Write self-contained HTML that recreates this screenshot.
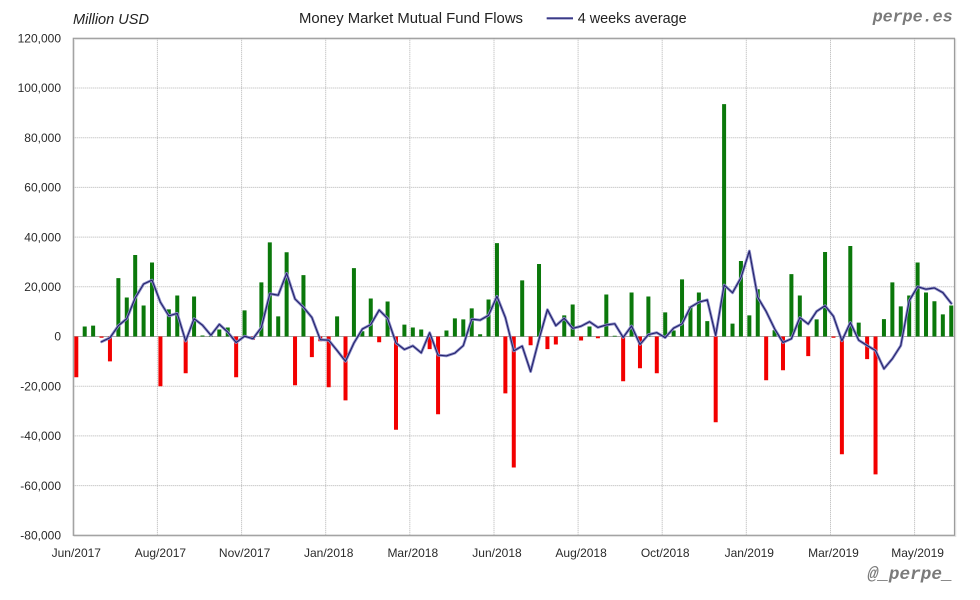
<!DOCTYPE html>
<html><head><meta charset="utf-8"><style>
html,body{margin:0;padding:0;background:#fff;}
svg{display:block;font-family:"Liberation Sans","DejaVu Sans",sans-serif;}
</style></head><body>
<svg width="980" height="600" viewBox="0 0 980 600" xmlns="http://www.w3.org/2000/svg">
<defs>
<polyline id="avg" vector-effect="non-scaling-stroke" points="3,-2.125 4,-0.525 5,4.35 6,7.175 7,15.5 8,21.125 9,22.7 10,13.775 11,8.3 12,9.3 13,-1.85 14,7.175 15,4.55 16,0.5 17,4.9 18,1.775 19,-2.425 20,0.125 21,-0.9 22,3.65 23,17.225 24,16.625 25,25.425 26,15.075 27,11.775 28,7.675 29,-1.275 30,-1.475 31,-5.625 32,-9.975 33,-2.625 34,3 35,4.8 36,10.65 37,7.3 38,-2.6 39,-5.225 40,-3.75 41,-6.575 42,1.525 43,-7.5 44,-7.8 45,-6.675 46,-3.675 47,6.975 48,6.6 49,8.5 50,16.175 51,7.625 52,-5.775 53,-3.85 54,-14.125 55,-1.1 56,10.8 57,4.35 58,7.35 59,3.275 60,4.15 61,5.95 62,3.65 63,4.65 64,5.125 65,-0.375 66,4.225 67,-3.2 68,0.75 69,1.55 70,-0.45 71,3.35 72,5.075 73,11.8 74,13.8 75,14.75 76,0.375 77,20.725 78,17.6 79,23.65 80,34.4 81,15.775 82,10.075 83,3.1 84,-2.425 85,-0.9 86,7.625 87,5.025 88,10.15 89,12.375 90,8.125 91,-1.75 92,5.625 93,-1.475 94,-3.625 95,-5.65 96,-13 97,-8.95 98,-3.65 99,14.35 100,20.05 101,19.025 102,19.55 103,17.65 104,13.325"/>
</defs>
<rect width="980" height="600" fill="#fff"/>
<rect x="74.3" y="39.3" width="881.2" height="497" fill="none" stroke="#e4e4e4" stroke-width="1.5"/>
<path fill="none" stroke="#b4b4b4" stroke-width="1" stroke-dasharray="1 1" d="M73.3 88H954.5M73.3 137.7H954.5M73.3 187.4H954.5M73.3 237.1H954.5M73.3 286.8H954.5M73.3 386.2H954.5M73.3 435.9H954.5M73.3 485.6H954.5M157.4 38.3V535.3M241.6 38.3V535.3M325.7 38.3V535.3M409.8 38.3V535.3M494 38.3V535.3M578.1 38.3V535.3M662.2 38.3V535.3M746.3 38.3V535.3M830.5 38.3V535.3M914.6 38.3V535.3"/>
<path stroke="#a8a8a8" stroke-width="1" d="M73.3 336.5H954.5"/>
<g transform="translate(76.3 336.5) scale(8.413 -2.485)" fill="none">
<path vector-effect="non-scaling-stroke" stroke="#0b780b" stroke-width="4" d="M1 0V4M2 0V4.4M5 0V23.5M6 0V15.7M7 0V32.8M8 0V12.5M9 0V29.8M11 0V10.9M12 0V16.5M14 0V16.1M15 0V.4M16 0V.3M17 0V2.8M18 0V3.6M20 0V10.5M22 0V21.8M23 0V37.9M24 0V8.1M25 0V33.9M27 0V24.7M31 0V8.1M33 0V27.5M34 0V2.1M35 0V15.3M37 0V14.1M39 0V4.8M40 0V3.6M41 0V2.8M44 0V2.4M45 0V7.3M46 0V6.9M47 0V11.3M48 0V.9M49 0V14.9M50 0V37.6M53 0V22.6M55 0V29.2M58 0V8.5M59 0V12.9M61 0V4M63 0V16.9M64 0V.3M66 0V17.7M68 0V16.1M70 0V9.7M71 0V2.4M72 0V23M73 0V12.1M74 0V17.7M75 0V6.2M77 0V93.5M78 0V5.2M79 0V30.4M80 0V8.5M81 0V19M83 0V2.5M85 0V25.1M86 0V16.5M88 0V6.9M89 0V34M92 0V36.4M93 0V5.6M96 0V7M97 0V21.8M98 0V12.1M99 0V16.5M100 0V29.8M101 0V17.7M102 0V14.2M103 0V8.9M104 0V12.5"/>
<path vector-effect="non-scaling-stroke" stroke="#f20000" stroke-width="4" d="M0 0V-16.4M3 0V-.5M4 0V-10M10 0V-20M13 0V-14.8M19 0V-16.4M21 0V-1.3M26 0V-19.6M28 0V-8.3M29 0V-1.9M30 0V-20.4M32 0V-25.7M36 0V-2.3M38 0V-37.5M42 0V-5.1M43 0V-31.3M51 0V-22.9M52 0V-52.7M54 0V-3.5M56 0V-5.1M57 0V-3.2M60 0V-1.6M62 0V-.7M65 0V-18M67 0V-12.8M69 0V-14.8M76 0V-34.5M82 0V-17.6M84 0V-13.6M87 0V-7.9M90 0V-.5M91 0V-47.4M94 0V-9.1M95 0V-55.5"/>
<g stroke-linejoin="round" stroke-linecap="round">
<use href="#avg" stroke="#8c8cc8" stroke-width="2.8"/>
<use href="#avg" stroke="#22226a" stroke-width="1.1"/>
</g>
</g>
<rect x="73.3" y="38.3" width="881.2" height="497" fill="none" stroke="#9c9c9c" stroke-width="1.2"/>
<g font-size="12" fill="#2a2a2a" text-anchor="end">
<text x="61" y="42.5">120,000</text>
<text x="61" y="92.2">100,000</text>
<text x="61" y="141.9">80,000</text>
<text x="61" y="191.6">60,000</text>
<text x="61" y="241.3">40,000</text>
<text x="61" y="291">20,000</text>
<text x="61" y="340.7">0</text>
<text x="61" y="390.4">-20,000</text>
<text x="61" y="440.1">-40,000</text>
<text x="61" y="489.8">-60,000</text>
<text x="61" y="539.5">-80,000</text>
</g>
<g font-size="12" fill="#2a2a2a" text-anchor="middle">
<text x="76.3" y="557">Jun/2017</text>
<text x="160.4" y="557">Aug/2017</text>
<text x="244.6" y="557">Nov/2017</text>
<text x="328.7" y="557">Jan/2018</text>
<text x="412.8" y="557">Mar/2018</text>
<text x="497" y="557">Jun/2018</text>
<text x="581.1" y="557">Aug/2018</text>
<text x="665.2" y="557">Oct/2018</text>
<text x="749.3" y="557">Jan/2019</text>
<text x="833.5" y="557">Mar/2019</text>
<text x="917.6" y="557">May/2019</text>
</g>
<text x="73" y="24" font-size="14.5" font-style="italic" fill="#222" textLength="76" lengthAdjust="spacingAndGlyphs">Million USD</text>
<text x="299" y="23" font-size="14.5" fill="#222" textLength="224" lengthAdjust="spacingAndGlyphs">Money Market Mutual Fund Flows</text>
<path d="M546.7 18.3H573" stroke="#8c8cc8" stroke-width="2.6"/>
<path d="M546.7 18.3H573" stroke="#22226a" stroke-width="1"/>
<text x="577.7" y="23" font-size="14.5" fill="#222" textLength="109" lengthAdjust="spacingAndGlyphs">4 weeks average</text>
<text x="872.7" y="21.5" font-family="Liberation Mono, DejaVu Sans Mono, monospace" font-size="17" font-weight="bold" font-style="italic" fill="#7a7a7a" textLength="80" lengthAdjust="spacingAndGlyphs">perpe.es</text>
<text x="867.7" y="579" font-family="Liberation Mono, DejaVu Sans Mono, monospace" font-size="17.5" font-weight="bold" font-style="italic" fill="#7a7a7a" textLength="85" lengthAdjust="spacingAndGlyphs">@_perpe_</text>
</svg>
</body></html>
